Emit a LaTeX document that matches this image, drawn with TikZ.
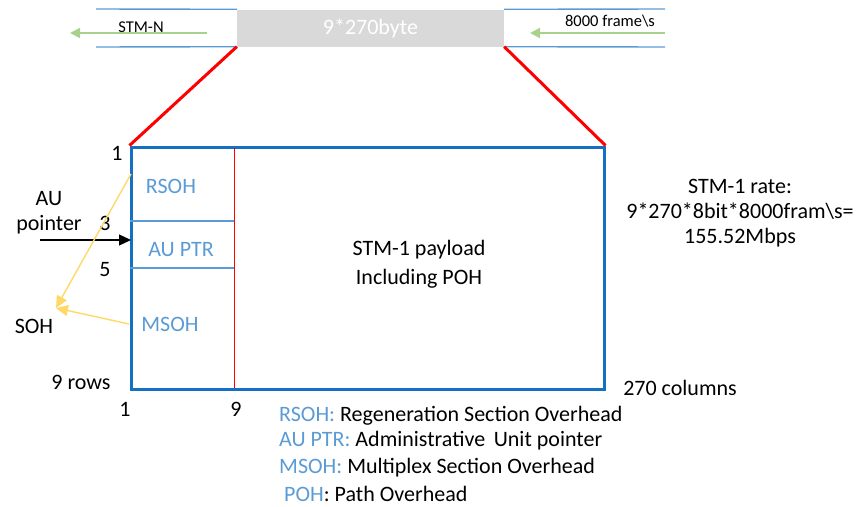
\documentclass[tikz,border=0pt]{standalone}
\usepackage{fontspec}
\setmainfont{Carlito}
\usetikzlibrary{arrows.meta, positioning}

\definecolor{frameblue}{HTML}{1570C4}
\definecolor{lightblue}{HTML}{5B9BD5}
\definecolor{ohyellow}{HTML}{FFD966}
\definecolor{flowgreen}{HTML}{A9D18E}
\definecolor{boxgray}{HTML}{D9D9D9}

\begin{document}
\begin{tikzpicture}[
    x=1pt, y=-1pt,
    every node/.style={font=\fontsize{22}{25}\selectfont, inner sep=0pt},
    small/.style={font=\fontsize{16.5}{19}\selectfont},
    ohtext/.style={text=lightblue},
    busline/.style={lightblue, line width=1.4pt},
    flow/.style={flowgreen, line width=1.8pt, -{Triangle[width=10pt,length=10pt]}},
    zoomline/.style={red, line width=3pt},
    soh/.style={ohyellow, line width=1.4pt, -{Triangle[width=11pt,length=12pt]}}
]
\useasboundingbox (0,0) rectangle (862,506);

% byte stream on top
\node[fill=boxgray, minimum width=267, minimum height=37, text=white] (frm) at (370.5,28) {9*270byte};
\draw[busline] (96,9) -- (frm.north west);
\draw[busline] (96,47) -- (frm.south west);
\draw[busline] (frm.north east) -- (665,9);
\draw[busline] (frm.south east) -- (665,47);
\coordinate (l1) at (207,33);
\coordinate (l0) at (70,33);
\coordinate (r1) at (665,33);
\coordinate (r0) at (530,33);
\draw[flow] (l1) -- (l0);
\draw[flow] (r1) -- (r0);
\node[small] (stmn) at (141,27) {STM-N};
\node[small] (fps) at (610,21) {8000 frame\textbackslash s};

% STM-1 frame
\node[draw=frameblue, line width=3pt, minimum width=473, minimum height=242] (stm) at (367.5,268) {};
\draw[zoomline] (frm.south west) -- (stm.north west);
\draw[zoomline] (frm.south east) -- (stm.north east);
\draw[red, line width=0.8pt] (234,148) -- (234,388);
\draw[lightblue, line width=1.4pt] (stm.west |- 0,221) -- (234,221);
\draw[lightblue, line width=1.4pt] (stm.west |- 0,268) -- (234,268);

\node[ohtext] (rsoh) at (171,186) {RSOH};
\node[ohtext] (auptr) at (181,250) {AU PTR};
\node[ohtext] (msoh) at (170,324) {MSOH};
\node (payload) at (419,250) {STM-1 payload};
\node[below=9pt of payload] (inpoh) {Including POH};

\node (r1) at (117,153) {1};
\node (r3) at (105,223) {3};
\node (r5) at (105,270) {5};
\node (rows) at (81,382) {9 rows};
\node (c1) at (125,409) {1};
\node (c9) at (236,409) {9};
\node (cols) at (680,388) {270 columns};

% pointers to the section overhead
\node (soh) at (34,326) {SOH};
\node[align=center] (aup) at (49,213) {AU\\pointer};
\coordinate (ptrtail) at (40,240);
\coordinate (ptrhead) at (131,240);
\draw[-{Triangle[width=11pt,length=12pt]}, line width=1.2pt] (ptrtail) -- (ptrhead);
\coordinate (rsohin) at (131,174);
\coordinate (msohin) at (129,324);
\coordinate (sohtip) at (56,308);
\draw[soh] (rsohin) -- (sohtip);
\draw[soh] (msohin) -- (sohtip);

% rate
\node[align=center] (rate) at (740,213) {STM-1 rate:\\9*270*8bit*8000fram\textbackslash s=\\155.52Mbps};

% legend
\node[anchor=west] (lg1) at (279,416) {\textcolor{lightblue}{RSOH:} Regeneration Section Overhead};
\node[anchor=west] (lg2) at (279,441) {\textcolor{lightblue}{AU PTR:} Administrative\, Unit pointer};
\node[anchor=west] (lg3) at (279,468) {\textcolor{lightblue}{MSOH:} Multiplex Section Overhead};
\node[anchor=west] (lg4) at (284,494) {\textcolor{lightblue}{POH}: Path Overhead};

\end{tikzpicture}
\end{document}
